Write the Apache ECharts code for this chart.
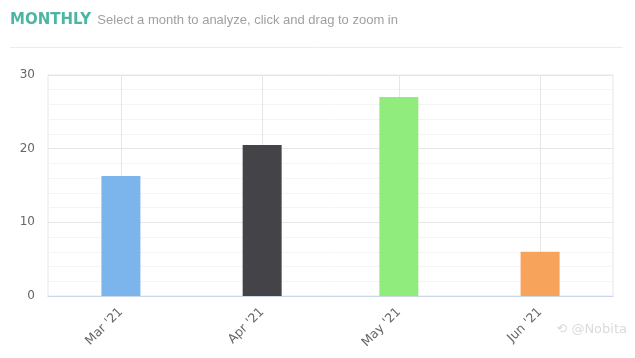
<!DOCTYPE html>
<html>
<head>
<meta charset="utf-8">
<script src="https://cdn.jsdelivr.net/npm/echarts@6/dist/echarts.min.js"></script>
<style>
  html, body { margin: 0; padding: 0; background: #fff; }
  #chart { width: 635px; height: 358px; }
</style>
</head>
<body>
<div id="chart"></div>
<script>
// Monthly totals, one bar per month
const monthStarts = ['2021-03-01', '2021-04-01', '2021-05-01', '2021-06-01'];
const monthValues = [16.3, 20.5, 27, 6];
const barColors = ['#7cb5ec', '#434348', '#90ed7d', '#f7a35c'];
const monthNames = ['Jan', 'Feb', 'Mar', 'Apr', 'May', 'Jun', 'Jul', 'Aug', 'Sep', 'Oct', 'Nov', 'Dec'];
const yTicks = [0, 10, 20, 30];

// x positions are measured in days so that month spacing follows the calendar
const DAY = 86400000;
const toDay = s => {
  const [y, m, d] = s.split('-').map(Number);
  return Date.UTC(y, m - 1, d) / DAY;
};
const monthDays = monthStarts.map(toDay);
const fmtMonth = v => {
  const d = new Date(v * DAY);
  return monthNames[d.getUTCMonth()] + " '" + String(d.getUTCFullYear()).slice(2);
};

const chart = echarts.init(document.getElementById('chart'), null, { renderer: 'canvas' });
const font = '"DejaVu Sans", Tahoma, "Noto Sans", sans-serif';
const subFont = '"Liberation Sans", Arial, sans-serif';

chart.setOption({
  animation: false,
  textStyle: { fontFamily: font },
  title: {
    left: 5,
    top: 6,
    text: '{a|MONTHLY} {b|Select a month to analyze, click and drag to zoom in}',
    textStyle: {
      rich: {
        a: { fontSize: 15, fontWeight: 'bold', color: '#4db6a2', fontFamily: font },
        b: { fontSize: 13, fontWeight: 'normal', color: '#a0a0a0', fontFamily: subFont }
      }
    }
  },
  graphic: [
    {
      type: 'line',
      shape: { x1: 10, y1: 47.5, x2: 623, y2: 47.5 },
      style: { stroke: '#ebebeb', lineWidth: 1 },
      silent: true
    },
    {
      type: 'text',
      right: 8,
      top: 323,
      style: { text: '⟲ @Nobita', fill: '#dadada', font: '13px ' + font },
      silent: true
    }
  ],
  grid: {
    left: 48, right: 22, top: 75, bottom: 62,
    show: true, borderColor: '#e6e6e6', borderWidth: 1
  },
  xAxis: {
    type: 'value',
    min: toDay('2021-02-13'),
    max: toDay('2021-06-17'),
    axisLine: { show: true, lineStyle: { color: '#ccd6eb', width: 1 } },
    axisTick: { show: false, customValues: monthDays },
    axisLabel: {
      customValues: monthDays,
      formatter: fmtMonth,
      rotate: 45,
      color: '#666666',
      fontSize: 12.5,
      margin: 14,
      showMinLabel: true,
      showMaxLabel: true
    },
    splitLine: { show: true, lineStyle: { color: '#e6e6e6', width: 1 } }
  },
  yAxis: {
    type: 'value',
    min: yTicks[0],
    max: yTicks[yTicks.length - 1],
    interval: 10,
    axisLine: { show: false },
    axisTick: { show: false },
    axisLabel: { color: '#666666', fontSize: 12, margin: 13 },
    splitLine: { show: true, lineStyle: { color: '#e6e6e6', width: 1 } },
    minorTick: { show: false, splitNumber: 5 },
    minorSplitLine: { show: true, lineStyle: { color: '#f4f4f4', width: 1 } }
  },
  series: [{
    type: 'bar',
    barWidth: 39,
    data: monthDays.map((t, i) => ({
      value: [t, monthValues[i]],
      itemStyle: { color: barColors[i] }
    }))
  }]
});
</script>
</body>
</html>
